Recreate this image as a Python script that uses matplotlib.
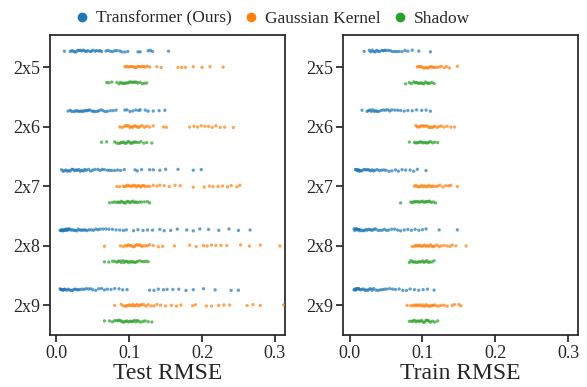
import numpy as np
import pandas as pd
import seaborn as sns
import matplotlib
matplotlib.use("Agg")
import matplotlib.pyplot as plt
from matplotlib.lines import Line2D

sizes = ["2x5", "2x6", "2x7", "2x8", "2x9"]
methods = ["Transformer (Ours)", "Gaussian Kernel", "Shadow"]
colors = ["#1f77b4", "#ff7f0e", "#2ca02c"]

# test rmse, one list per system size
test_transformer = [
    [0.011, 0.019, 0.021, 0.023, 0.025, 0.027, 0.029, 0.031, 0.033, 0.035, 0.037, 0.039, 0.041, 0.043, 0.046,
     0.048, 0.050, 0.053, 0.055, 0.058, 0.060, 0.062, 0.068, 0.071, 0.074, 0.077, 0.080, 0.083, 0.087, 0.090,
     0.094, 0.098, 0.112, 0.115, 0.126, 0.129, 0.132, 0.154],
    [0.016, 0.019, 0.021, 0.024, 0.026, 0.028, 0.030, 0.032, 0.034, 0.036, 0.038, 0.040, 0.042, 0.044, 0.046,
     0.049, 0.051, 0.053, 0.056, 0.058, 0.061, 0.064, 0.067, 0.070, 0.074, 0.078, 0.082, 0.094, 0.097, 0.101,
     0.105, 0.109, 0.113, 0.115, 0.122, 0.126, 0.133, 0.141, 0.149],
    [0.007, 0.009, 0.011, 0.013, 0.015, 0.017, 0.019, 0.021, 0.023, 0.025, 0.027, 0.029, 0.031, 0.033, 0.035,
     0.037, 0.039, 0.041, 0.044, 0.047, 0.050, 0.053, 0.057, 0.060, 0.063, 0.066, 0.070, 0.073, 0.076, 0.080,
     0.084, 0.088, 0.093, 0.108, 0.111, 0.117, 0.128, 0.133, 0.142, 0.150, 0.167, 0.188, 0.199],
    [0.005, 0.006, 0.007, 0.008, 0.009, 0.010, 0.011, 0.012, 0.013, 0.014, 0.015, 0.016, 0.017, 0.018, 0.020,
     0.022, 0.024, 0.026, 0.028, 0.030, 0.032, 0.034, 0.036, 0.038, 0.040, 0.042, 0.045, 0.048, 0.051, 0.054,
     0.057, 0.060, 0.064, 0.068, 0.072, 0.077, 0.082, 0.087, 0.092, 0.096, 0.106, 0.112, 0.119, 0.125, 0.132,
     0.142, 0.148, 0.157, 0.166, 0.179, 0.188, 0.197, 0.209, 0.223, 0.237, 0.250, 0.266],
    [0.005, 0.006, 0.007, 0.008, 0.009, 0.010, 0.011, 0.012, 0.014, 0.016, 0.018, 0.020, 0.022, 0.024, 0.026,
     0.028, 0.030, 0.032, 0.035, 0.038, 0.041, 0.044, 0.047, 0.050, 0.054, 0.058, 0.062, 0.066, 0.070, 0.075,
     0.080, 0.086, 0.091, 0.097, 0.128, 0.134, 0.140, 0.147, 0.152, 0.160, 0.168, 0.178, 0.188, 0.202, 0.218,
     0.240, 0.250],
]
test_gaussian = [
    [0.094, 0.096, 0.098, 0.100, 0.102, 0.104, 0.106, 0.108, 0.110, 0.112, 0.114, 0.116, 0.118, 0.120, 0.122,
     0.125, 0.128, 0.138, 0.144, 0.167, 0.172, 0.177, 0.188, 0.200, 0.211, 0.229],
    [0.087, 0.090, 0.093, 0.095, 0.097, 0.099, 0.101, 0.103, 0.105, 0.107, 0.109, 0.111, 0.113, 0.115, 0.118,
     0.121, 0.124, 0.128, 0.133, 0.147, 0.151, 0.183, 0.189, 0.194, 0.199, 0.204, 0.209, 0.214, 0.219, 0.225,
     0.231, 0.243],
    [0.083, 0.087, 0.092, 0.094, 0.096, 0.098, 0.100, 0.102, 0.104, 0.106, 0.108, 0.110, 0.112, 0.114, 0.116,
     0.118, 0.120, 0.122, 0.125, 0.128, 0.133, 0.138, 0.142, 0.148, 0.155, 0.163, 0.170, 0.188, 0.203, 0.210,
     0.215, 0.222, 0.228, 0.235, 0.240, 0.248, 0.252],
    [0.066, 0.088, 0.092, 0.095, 0.097, 0.099, 0.101, 0.103, 0.105, 0.107, 0.109, 0.111, 0.113, 0.115, 0.117,
     0.119, 0.122, 0.125, 0.128, 0.133, 0.140, 0.146, 0.162, 0.183, 0.192, 0.202, 0.207, 0.213, 0.219, 0.226,
     0.234, 0.253, 0.265, 0.280, 0.307],
    [0.080, 0.089, 0.092, 0.095, 0.097, 0.099, 0.101, 0.103, 0.105, 0.107, 0.109, 0.111, 0.113, 0.115, 0.117,
     0.120, 0.123, 0.126, 0.130, 0.134, 0.138, 0.143, 0.150, 0.158, 0.165, 0.171, 0.187, 0.191, 0.206, 0.213,
     0.223, 0.230, 0.238, 0.262, 0.270, 0.280, 0.312],
]
test_shadow = [
    [0.069, 0.072, 0.076, 0.083, 0.086, 0.088, 0.090, 0.092, 0.094, 0.096, 0.098, 0.100, 0.102, 0.104, 0.106,
     0.108, 0.110, 0.112, 0.115, 0.118, 0.121, 0.124],
    [0.062, 0.069, 0.080, 0.083, 0.086, 0.088, 0.090, 0.092, 0.094, 0.096, 0.098, 0.100, 0.102, 0.104, 0.106,
     0.108, 0.110, 0.113, 0.116, 0.120, 0.124, 0.131],
    [0.073, 0.077, 0.080, 0.083, 0.085, 0.087, 0.089, 0.091, 0.093, 0.095, 0.097, 0.099, 0.101, 0.103, 0.105,
     0.107, 0.109, 0.111, 0.114, 0.117, 0.121, 0.125, 0.128],
    [0.066, 0.072, 0.077, 0.080, 0.083, 0.085, 0.087, 0.089, 0.091, 0.093, 0.095, 0.097, 0.099, 0.101, 0.103,
     0.105, 0.107, 0.109, 0.111, 0.114, 0.117, 0.120, 0.123, 0.126],
    [0.066, 0.073, 0.077, 0.080, 0.083, 0.085, 0.087, 0.089, 0.091, 0.093, 0.095, 0.097, 0.099, 0.101, 0.103,
     0.105, 0.107, 0.109, 0.111, 0.113, 0.116, 0.119, 0.122, 0.126, 0.131],
]

# train rmse
train_transformer = [
    [0.020, 0.027, 0.029, 0.031, 0.033, 0.035, 0.037, 0.039, 0.041, 0.044, 0.046, 0.048, 0.050, 0.053, 0.056,
     0.059, 0.062, 0.065, 0.068, 0.072, 0.076, 0.080, 0.086, 0.095, 0.111],
    [0.017, 0.024, 0.026, 0.028, 0.030, 0.032, 0.034, 0.036, 0.038, 0.040, 0.043, 0.046, 0.049, 0.052, 0.055,
     0.058, 0.062, 0.066, 0.070, 0.075, 0.080, 0.086, 0.092, 0.099, 0.105, 0.111],
    [0.008, 0.009, 0.010, 0.011, 0.012, 0.013, 0.014, 0.015, 0.017, 0.019, 0.021, 0.023, 0.025, 0.027, 0.029,
     0.031, 0.033, 0.035, 0.038, 0.041, 0.044, 0.047, 0.050, 0.054, 0.058, 0.063, 0.067, 0.072, 0.077, 0.083,
     0.088, 0.093, 0.105],
    [0.006, 0.007, 0.008, 0.009, 0.010, 0.011, 0.012, 0.013, 0.014, 0.016, 0.018, 0.020, 0.022, 0.024, 0.026,
     0.028, 0.030, 0.032, 0.034, 0.036, 0.039, 0.042, 0.045, 0.048, 0.051, 0.054, 0.058, 0.062, 0.066, 0.070,
     0.075, 0.080, 0.085, 0.090, 0.095, 0.100, 0.105, 0.123, 0.148],
    [0.006, 0.007, 0.008, 0.009, 0.010, 0.011, 0.012, 0.013, 0.015, 0.017, 0.019, 0.021, 0.023, 0.025, 0.027,
     0.029, 0.031, 0.033, 0.036, 0.039, 0.042, 0.045, 0.048, 0.051, 0.055, 0.059, 0.063, 0.068, 0.073, 0.078,
     0.083, 0.089, 0.095, 0.101, 0.107, 0.116],
]
train_gaussian = [
    [0.093, 0.095, 0.097, 0.099, 0.101, 0.103, 0.105, 0.107, 0.109, 0.111, 0.113, 0.115, 0.117, 0.120, 0.123,
     0.126, 0.130, 0.133, 0.137, 0.148],
    [0.091, 0.093, 0.095, 0.097, 0.099, 0.101, 0.103, 0.105, 0.107, 0.109, 0.111, 0.113, 0.115, 0.117, 0.120,
     0.123, 0.126, 0.130, 0.134, 0.139, 0.144],
    [0.089, 0.091, 0.093, 0.095, 0.097, 0.099, 0.101, 0.103, 0.105, 0.107, 0.109, 0.111, 0.113, 0.115, 0.118,
     0.121, 0.124, 0.128, 0.132, 0.136, 0.139, 0.148],
    [0.086, 0.089, 0.091, 0.093, 0.095, 0.097, 0.099, 0.101, 0.103, 0.105, 0.107, 0.109, 0.111, 0.113, 0.115,
     0.117, 0.120, 0.123, 0.126, 0.130, 0.134, 0.138, 0.141, 0.146, 0.160],
    [0.079, 0.084, 0.087, 0.089, 0.091, 0.093, 0.095, 0.097, 0.099, 0.101, 0.103, 0.105, 0.107, 0.109, 0.111,
     0.113, 0.115, 0.117, 0.120, 0.123, 0.126, 0.130, 0.134, 0.141, 0.144, 0.150, 0.153],
]
train_shadow = [
    [0.077, 0.082, 0.085, 0.088, 0.090, 0.092, 0.094, 0.096, 0.098, 0.100, 0.102, 0.104, 0.106, 0.108, 0.110,
     0.113, 0.116],
    [0.082, 0.089, 0.091, 0.093, 0.095, 0.097, 0.099, 0.101, 0.103, 0.105, 0.107, 0.109, 0.111, 0.114, 0.117,
     0.121],
    [0.070, 0.084, 0.086, 0.088, 0.090, 0.092, 0.094, 0.096, 0.098, 0.100, 0.102, 0.104, 0.106, 0.108, 0.110,
     0.112, 0.115, 0.118],
    [0.082, 0.084, 0.086, 0.088, 0.090, 0.092, 0.094, 0.096, 0.098, 0.100, 0.102, 0.104, 0.106, 0.108, 0.110,
     0.113, 0.116],
    [0.082, 0.085, 0.087, 0.089, 0.091, 0.093, 0.095, 0.097, 0.099, 0.101, 0.103, 0.105, 0.107, 0.109, 0.111,
     0.114, 0.117, 0.121],
]


def to_frame(per_method):
    rows = []
    for method, groups in zip(methods, per_method):
        for size, vals in zip(sizes, groups):
            for v in vals:
                rows.append((size, method, v))
    return pd.DataFrame(rows, columns=["size", "method", "rmse"])


df_test = to_frame([test_transformer, test_gaussian, test_shadow])
df_train = to_frame([train_transformer, train_gaussian, train_shadow])

sns.set_theme(style="ticks")
plt.rcParams["font.family"] = ["Liberation Serif", "DejaVu Serif"]
np.random.seed(3)

fig, axes = plt.subplots(1, 2, figsize=(5.87, 3.87), dpi=100)
fig.subplots_adjust(left=0.085, right=0.985, top=0.91, bottom=0.134, wspace=0.247)

for ax, df, label in zip(axes, [df_test, df_train], ["Test RMSE", "Train RMSE"]):
    sns.stripplot(data=df, x="rmse", y="size", hue="method", order=sizes, hue_order=methods,
                  palette=colors, dodge=True, jitter=0.05, size=2.4, alpha=0.7, linewidth=0, ax=ax)
    ax.legend_.remove()
    ax.set_xlim(-0.009, 0.314)
    ax.set_ylim(4.5, -0.54)
    ax.set_xticks([0.0, 0.1, 0.2, 0.3])
    ax.set_xlabel(label, fontsize=17, labelpad=1)
    ax.set_ylabel("")
    ax.tick_params(labelsize=13, pad=2, length=5)

handles = [Line2D([], [], marker="o", linestyle="", color=c, markersize=6) for c in colors]
fig.legend(handles, methods, loc="upper center", bbox_to_anchor=(0.466, 1.013), ncol=3, frameon=False,
           fontsize=12.5, handlelength=0.6, handletextpad=0.5, columnspacing=0.8)

fig.savefig("out.png", dpi=100)
